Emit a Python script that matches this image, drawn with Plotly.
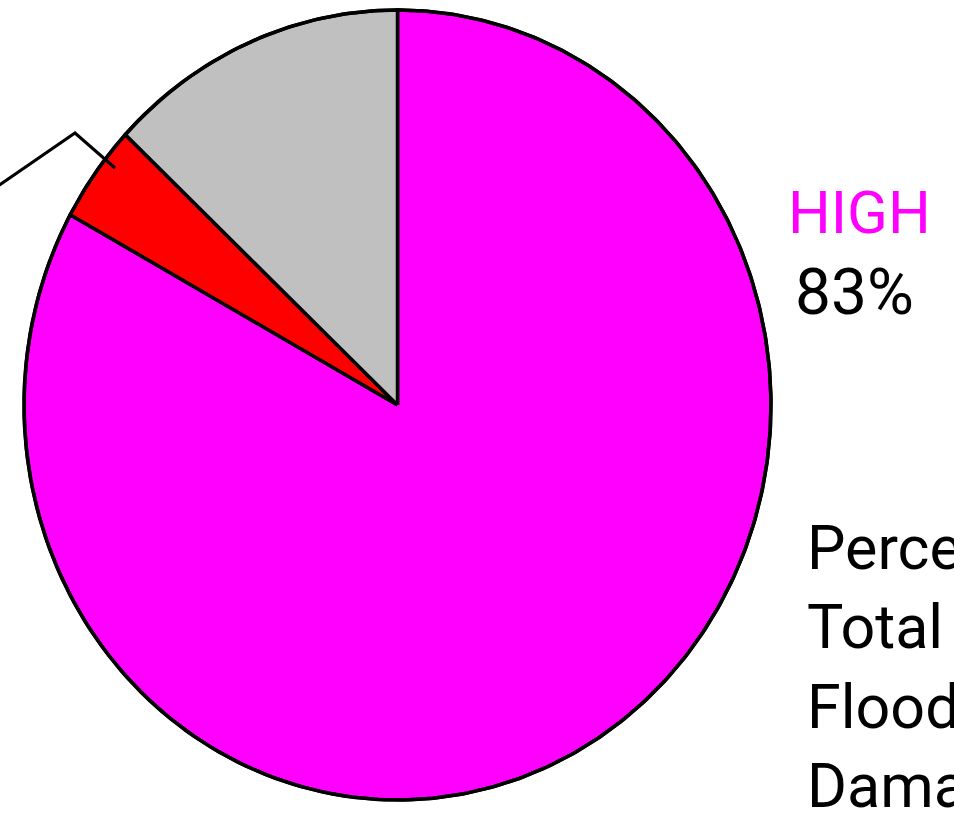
import numpy as np
import plotly.graph_objects as go

# Share of total flood damage by risk class (clockwise from 12 o'clock)
categories = ["HIGH", "MODERATE", "LOW"]
shares = [83, 4, 13]
colors = ["#FF00FF", "#FF0000", "#C0C0C0"]

W, H = 954, 827
CX, CY = 397.5, 405.0      # pie centre in pixel units
RX, RY = 373.5, 395.0      # slightly oval pie

fig = go.Figure()

total = float(sum(shares))
start = 0.0
for name, val, col in zip(categories, shares, colors):
    span = 360.0 * val / total
    n = max(int(span * 2), 4)
    th = np.radians(np.linspace(start, start + span, n))
    xs = np.concatenate([[CX], CX + RX * np.sin(th), [CX]])
    ys = np.concatenate([[CY], CY - RY * np.cos(th), [CY]])
    fig.add_trace(go.Scatter(
        x=xs, y=ys, mode="lines", fill="toself", fillcolor=col,
        line=dict(color="black", width=3.5), name=name,
        hoverinfo="name", showlegend=False,
    ))
    start += span

# outer rim
th = np.radians(np.linspace(0, 360, 721))
fig.add_trace(go.Scatter(
    x=CX + RX * np.sin(th), y=CY - RY * np.cos(th), mode="lines",
    line=dict(color="black", width=3.5), hoverinfo="skip", showlegend=False,
))

FONT = "Roboto, Arial, sans-serif"


def px(x, y):
    return x / W, 1 - y / H


# leader line towards the off-page MODERATE label
p0, p1, p2 = px(-2, 186), px(75, 133), px(115, 168)
fig.add_shape(
    type="path", xref="paper", yref="paper",
    path=f"M {p0[0]} {p0[1]} L {p1[0]} {p1[1]} L {p2[0]} {p2[1]}",
    line=dict(color="black", width=3),
)

hx, hy = px(786, 212)
fig.add_annotation(
    x=hx, y=hy, xref="paper", yref="paper", xanchor="left", yanchor="middle",
    text=categories[0], showarrow=False,
    font=dict(family=FONT, size=60, color="#FF00FF"),
)
vx, vy = px(793, 292)
fig.add_annotation(
    x=vx, y=vy, xref="paper", yref="paper", xanchor="left", yanchor="middle",
    text=f"{shares[0]}%", showarrow=False,
    font=dict(family=FONT, size=64, color="black"),
)
tx, ty = px(805, 510)
fig.add_annotation(
    x=tx, y=ty, xref="paper", yref="paper", xanchor="left", yanchor="top",
    align="left", text="Percent of<br>Total<br>Flood<br>Damage", showarrow=False,
    font=dict(family=FONT, size=61, color="black"),
)

fig.update_layout(
    width=W, height=H, margin=dict(l=0, r=0, t=0, b=0),
    paper_bgcolor="white", plot_bgcolor="white",
    xaxis=dict(range=[0, W], visible=False, fixedrange=True),
    yaxis=dict(range=[H, 0], visible=False, fixedrange=True),
)

fig.write_html("out.html")
